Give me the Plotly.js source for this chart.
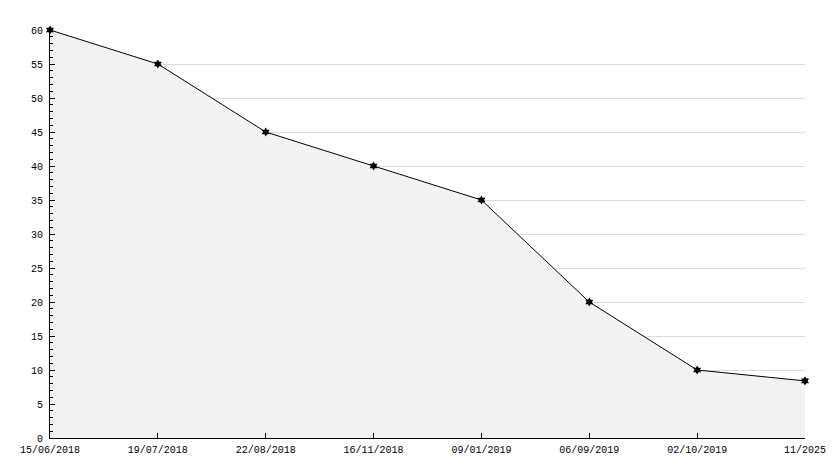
<!DOCTYPE html>
<html>
<head>
<meta charset="utf-8">
<script src="https://cdn.plot.ly/plotly-3.0.1.min.js"></script>
<style>html,body{margin:0;padding:0;background:#fff;}#chart{width:834px;height:468px;}</style>
</head>
<body>
<div id="chart"></div>
<script>
const dates = ["15/06/2018","19/07/2018","22/08/2018","16/11/2018","09/01/2019","06/09/2019","02/10/2019","11/2025"];
const values = [60, 55, 45, 40, 35, 20, 10, 8.4];
const yTicks = [0,5,10,15,20,25,30,35,40,45,50,55,60];

const FONT = 'Liberation Mono, DejaVu Sans Mono, monospace';

const trace = {
  x: dates,
  y: values,
  type: 'scatter',
  mode: 'lines+markers',
  fill: 'tozeroy',
  fillcolor: '#f2f2f2',
  line: {color: '#000000', width: 1},
  marker: {symbol: 'hexagram', size: 7, color: '#000000', line: {width: 0}},
  cliponaxis: false,
  hoverinfo: 'x+y'
};

const layout = {
  width: 834, height: 468,
  margin: {l: 50, r: 29, t: 30, b: 30},
  paper_bgcolor: '#ffffff',
  plot_bgcolor: '#ffffff',
  showlegend: false,
  font: {family: FONT, size: 10, color: '#000000'},
  xaxis: {
    type: 'category',
    range: [0, dates.length - 1],
    showgrid: false,
    zeroline: false,
    showline: true, linecolor: '#000000', linewidth: 1,
    ticks: 'inside', ticklen: 5, tickcolor: '#000000',
    tickfont: {family: FONT, size: 10, color: '#000000'},
    ticklabelstandoff: 2,
    fixedrange: true
  },
  yaxis: {
    range: [0, 60],
    tickvals: yTicks,
    ticktext: yTicks.map(String),
    showgrid: true, gridcolor: '#dcdcdc', gridwidth: 1,
    zeroline: false,
    showline: true, linecolor: '#000000', linewidth: 1,
    ticks: 'inside', ticklen: 5, tickcolor: '#000000',
    minor: {dtick: 1, ticks: 'inside', ticklen: 3, tickcolor: '#000000', showgrid: false},
    tickfont: {family: FONT, size: 10, color: '#000000'},
    ticklabelstandoff: 4,
    fixedrange: true
  }
};

Plotly.newPlot('chart', [trace], layout, {displayModeBar: false, staticPlot: true});
</script>
</body>
</html>
